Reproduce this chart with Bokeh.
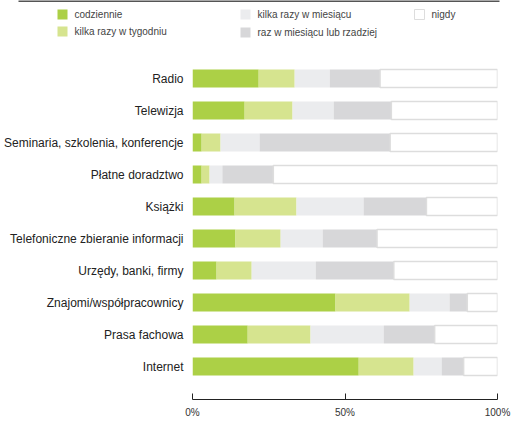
import numpy as np
from bokeh.plotting import figure
from bokeh.models import Range1d, FixedTicker
from bokeh.core.properties import value
from bokeh.embed import file_html
from bokeh.resources import INLINE

categories = ["Radio", "Telewizja", "Seminaria, szkolenia, konferencje", "Płatne doradztwo",
              "Książki", "Telefoniczne zbieranie informacji", "Urzędy, banki, firmy",
              "Znajomi/współpracownicy", "Prasa fachowa", "Internet"]
series_names = ["codziennie", "kilka razy w tygodniu", "kilka razy w miesiącu",
                "raz w miesiącu lub rzadziej", "nigdy"]
codziennie = [21.7, 17.1, 3.0, 3.0, 13.8, 14.1, 7.9, 46.9, 18.1, 54.5]
kilka_tyg = [11.8, 15.7, 6.2, 2.6, 20.3, 14.8, 11.5, 24.3, 20.6, 18.0]
kilka_mies = [11.5, 13.5, 12.8, 4.2, 22.0, 13.8, 21.0, 13.1, 24.0, 9.2]
raz_mies = [16.5, 18.9, 42.8, 16.7, 20.6, 17.8, 25.6, 5.8, 16.7, 7.2]
nigdy = [38.5, 34.8, 35.2, 73.5, 23.3, 39.5, 34.0, 9.9, 20.6, 11.1]
x_ticks = [0, 50, 100]
x_tick_labels = ["0%", "50%", "100%"]

colors = ["#acd046", "#d6e48f", "#ebecee", "#d7d7d9", "#ffffff"]
FONT = "Liberation Sans"

# ---------------- legend strip ----------------
leg = figure(width=513, height=50, x_range=Range1d(0, 513), y_range=Range1d(50, 0),
             output_backend="svg", toolbar_location=None, min_border=0,
             outline_line_color=None)
leg.axis.visible = False
leg.grid.visible = False
leg.segment(x0=[18], y0=[0.5], x1=[499], y1=[0.5], line_color="#555555", line_width=2)
leg_x = [57, 57, 240, 240, 414]
leg_y = [14, 31, 14, 32, 14]
leg.rect(x=[x + 5 for x in leg_x], y=leg_y, width=10, height=10,
         fill_color=colors, line_color=[None, None, None, None, "#dddddd"], line_width=1)
leg.text(x=[x + 17 for x in leg_x], y=leg_y, text=series_names,
         text_font=value(FONT), text_font_size="10px", text_color="#444444",
         text_baseline="middle", text_align="left")

# ---------------- main chart ----------------
n = len(categories)
ypos = list(range(n - 1, -1, -1))
p = figure(width=513, height=374, x_range=Range1d(0, 100), y_range=Range1d(-1.03, 9.5),
           output_backend="svg", toolbar_location=None,
           min_border_left=192, min_border_right=16, min_border_top=12, min_border_bottom=25,
           outline_line_color=None)
p.grid.visible = False

data = np.array([codziennie, kilka_tyg, kilka_mies, raz_mies, nigdy])
cum = np.cumsum(data, axis=0)
lefts = np.vstack([np.zeros(n), cum[:-1]])
for i in range(5):
    right = cum[i] if i < 4 else np.full(n, 100.0)
    if i < 4:
        p.hbar(y=ypos, left=lefts[i], right=right, height=0.5625,
               fill_color=colors[i], line_color=None)
    else:
        p.hbar(y=ypos, left=lefts[i], right=right, height=0.5625,
               fill_color="#ffffff", line_color="#dddddd", line_width=1.5)

p.xaxis.ticker = FixedTicker(ticks=x_ticks)
p.xaxis.major_label_overrides = {t: l for t, l in zip(x_ticks, x_tick_labels)}
p.xaxis.axis_line_color = "#222222"
p.xaxis.major_tick_line_color = "#222222"
p.xaxis.major_tick_in = 6
p.xaxis.major_tick_out = 0
p.xaxis.minor_tick_line_color = None
p.xaxis.major_label_standoff = 7
p.xaxis.major_label_text_font = FONT
p.xaxis.major_label_text_font_size = "10px"
p.xaxis.major_label_text_color = "#333333"

p.yaxis.ticker = FixedTicker(ticks=ypos)
p.yaxis.major_label_overrides = {y: c for y, c in zip(ypos, categories)}
p.yaxis.axis_line_color = None
p.yaxis.major_tick_line_color = None
p.yaxis.major_tick_in = 0
p.yaxis.major_tick_out = 0
p.yaxis.minor_tick_line_color = None
p.yaxis.major_label_standoff = 9
p.yaxis.major_label_text_font = FONT
p.yaxis.major_label_text_font_size = "12px"
p.yaxis.major_label_text_color = "#222222"

open("out.html", "w").write(file_html([leg, p], INLINE))
